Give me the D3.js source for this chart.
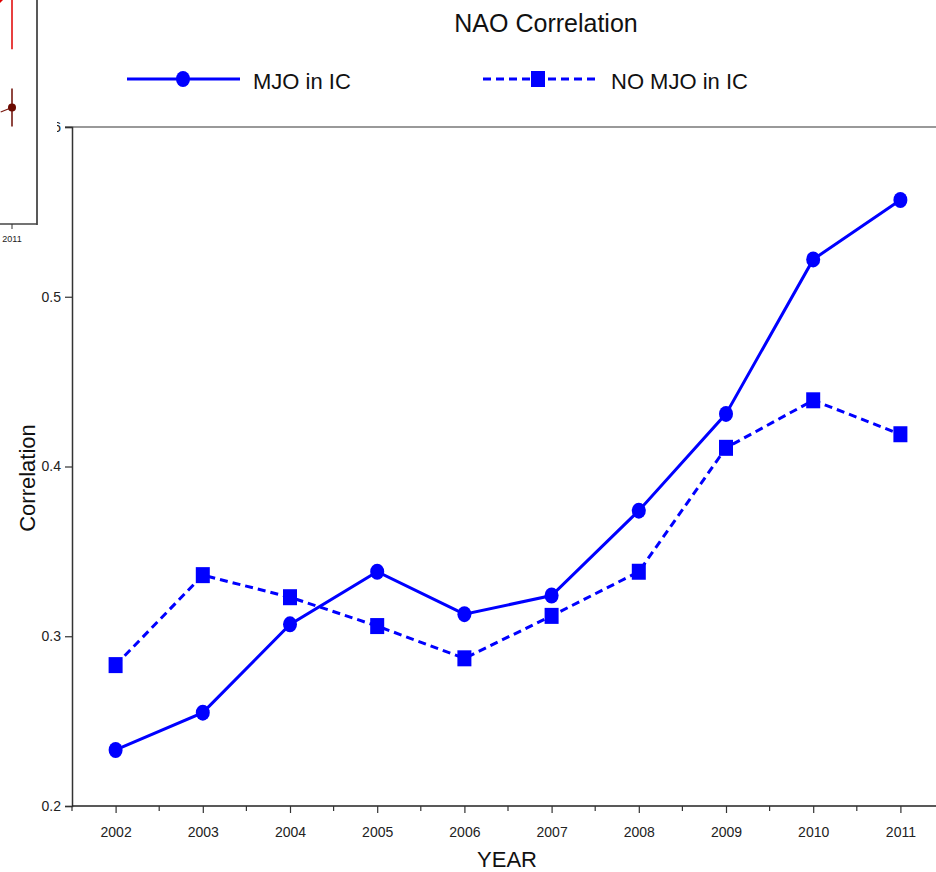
<!DOCTYPE html>
<html>
<head>
<meta charset="utf-8">
<script src="https://cdn.jsdelivr.net/npm/d3@7"></script>
<style>
  html, body { margin: 0; padding: 0; background: #fff; }
  svg { display: block; font-family: "Liberation Sans", Arial, sans-serif; }
</style>
</head>
<body>
<svg id="chart" width="936" height="872"></svg>
<script>
// Years and NAO correlation for the two experiment sets
const years = [2002, 2003, 2004, 2005, 2006, 2007, 2008, 2009, 2010, 2011];
const mjoInIC = [0.233, 0.255, 0.307, 0.338, 0.313, 0.324, 0.374, 0.431, 0.522, 0.557];
const noMjoInIC = [0.283, 0.336, 0.323, 0.306, 0.287, 0.312, 0.338, 0.411, 0.439, 0.419];
const yTicks = [0.2, 0.3, 0.4, 0.5, 0.6];
const seriesNames = ["MJO in IC", "NO MJO in IC"];

// Neighbouring panel fragment (last year of another figure)
const insetYears = [2011];
const insetBrown = [0.52];
const insetBrownErr = [0.085];
const insetBrownPrev = [0.50];
const insetRedLow = [0.78];

const svg = d3.select("#chart");
const W = 936, H = 872;
const m = { left: 72, top: 127, right: -8, bottom: 66 };

const x = d3.scaleLinear().domain([2001.5, 2011.5]).range([m.left, W - m.right]);
const y = d3.scaleLinear().domain([0.2, 0.6]).range([H - m.bottom, m.top]);

const blue = "#0000ff";

// Top frame line
svg.append("line")
  .attr("x1", m.left - 7).attr("x2", W)
  .attr("y1", y(0.6)).attr("y2", y(0.6))
  .attr("stroke", "#777").attr("stroke-width", 1.5);

// Y axis
const yAxis = d3.axisLeft(y).tickValues(yTicks).tickFormat(d3.format(".1f")).tickSize(7).tickPadding(4);
const gy = svg.append("g").attr("transform", `translate(${m.left},0)`).call(yAxis);
gy.select(".domain").attr("stroke", "#333").attr("stroke-width", 1.5);
gy.selectAll(".tick line").attr("stroke", "#333").attr("stroke-width", 1.2);
gy.selectAll(".tick text").attr("font-size", 14).attr("fill", "#222")
  .attr("font-family", "Liberation Sans, Arial, sans-serif");

// X axis: major ticks at years, minor ticks at half years
const minor = d3.range(2001.5, 2012, 1);
svg.append("line")
  .attr("x1", m.left).attr("x2", W)
  .attr("y1", y(0.2)).attr("y2", y(0.2))
  .attr("stroke", "#222").attr("stroke-width", 1.5);
svg.append("g").selectAll("line").data(minor).join("line")
  .attr("x1", d => x(d)).attr("x2", d => x(d))
  .attr("y1", y(0.2)).attr("y2", y(0.2) + 5)
  .attr("stroke", "#333").attr("stroke-width", 1.2);
const xAxis = d3.axisBottom(x).tickValues(years).tickFormat(d3.format("d")).tickSize(7).tickPadding(14);
const gx = svg.append("g").attr("transform", `translate(0,${y(0.2)})`).call(xAxis);
gx.select(".domain").remove();
gx.selectAll(".tick line").attr("stroke", "#333").attr("stroke-width", 1.2);
gx.selectAll(".tick text").attr("font-size", 14).attr("fill", "#222")
  .attr("font-family", "Liberation Sans, Arial, sans-serif");

// Axis titles and chart title
svg.append("text").attr("x", 507).attr("y", 867).attr("text-anchor", "middle")
  .attr("font-size", 22).attr("fill", "#111").text("YEAR");
svg.append("text").attr("transform", `translate(35,478) rotate(-90)`).attr("text-anchor", "middle")
  .attr("font-size", 22).attr("fill", "#111").text("Correlation");
svg.append("text").attr("x", 546).attr("y", 32).attr("text-anchor", "middle")
  .attr("font-size", 25).attr("fill", "#111").text("NAO Correlation");

// Series
const line = d3.line().x((d, i) => x(years[i])).y(d => y(d));

svg.append("path").datum(noMjoInIC).attr("d", line)
  .attr("fill", "none").attr("stroke", blue).attr("stroke-width", 3)
  .attr("stroke-dasharray", "8,5");
svg.append("path").datum(mjoInIC).attr("d", line)
  .attr("fill", "none").attr("stroke", blue).attr("stroke-width", 3);

svg.append("g").selectAll("rect").data(noMjoInIC).join("rect")
  .attr("x", (d, i) => x(years[i]) - 7).attr("y", d => y(d) - 8)
  .attr("width", 14).attr("height", 16).attr("fill", blue);
svg.append("g").selectAll("ellipse").data(mjoInIC).join("ellipse")
  .attr("cx", (d, i) => x(years[i])).attr("cy", d => y(d))
  .attr("rx", 7).attr("ry", 8).attr("fill", blue);

// Legend
const lg = svg.append("g");
lg.append("line").attr("x1", 127).attr("x2", 240).attr("y1", 79).attr("y2", 79)
  .attr("stroke", blue).attr("stroke-width", 3);
lg.append("ellipse").attr("cx", 183).attr("cy", 79).attr("rx", 7).attr("ry", 8).attr("fill", blue);
lg.append("text").attr("x", 253).attr("y", 88.5).attr("font-size", 22).attr("fill", "#111").text(seriesNames[0]);
lg.append("line").attr("x1", 483).attr("x2", 595).attr("y1", 79).attr("y2", 79)
  .attr("stroke", blue).attr("stroke-width", 3).attr("stroke-dasharray", "8,5");
lg.append("rect").attr("x", 531).attr("y", 71).attr("width", 14).attr("height", 16).attr("fill", blue);
lg.append("text").attr("x", 611).attr("y", 88.5).attr("font-size", 22).attr("fill", "#111").text(seriesNames[1]);

// Fragment of the neighbouring panel in the top-left corner
const ix = d3.scaleLinear().domain([2010, 2011]).range([-75, 12]);
const iy = d3.scaleLinear().domain([0, 1]).range([224, 0]);
const inset = svg.append("g");
inset.append("rect").attr("x", 0).attr("y", 0).attr("width", 57).attr("height", 250).attr("fill", "#fff");
inset.append("line").attr("x1", 37).attr("x2", 37).attr("y1", 0).attr("y2", 225)
  .attr("stroke", "#222").attr("stroke-width", 1.5);
inset.append("line").attr("x1", 0).attr("x2", 37).attr("y1", 224).attr("y2", 224)
  .attr("stroke", "#444").attr("stroke-width", 1.5);
inset.selectAll(".itick").data(insetYears).join("line")
  .attr("x1", d => ix(d)).attr("x2", d => ix(d)).attr("y1", 224).attr("y2", 229)
  .attr("stroke", "#333");
inset.selectAll(".ilab").data(insetYears).join("text")
  .attr("x", d => ix(d)).attr("y", 242).attr("text-anchor", "middle")
  .attr("font-size", 9).attr("fill", "#222").text(d => d);
// red series error bar (reaching above the fragment)
inset.selectAll(".ired").data(insetRedLow).join("line")
  .attr("x1", (d, i) => ix(insetYears[i])).attr("x2", (d, i) => ix(insetYears[i]))
  .attr("y1", 0).attr("y2", d => iy(d))
  .attr("stroke", "#e00000").attr("stroke-width", 1.5);
inset.append("path").attr("d", "M0,3 L3,0 L0,0 Z").attr("fill", "#e00000");
// brown series with error bar
inset.selectAll(".ibl").data(insetBrown).join("line")
  .attr("x1", ix(2010.87)).attr("y1", (d, i) => iy(insetBrownPrev[i]))
  .attr("x2", (d, i) => ix(insetYears[i])).attr("y2", d => iy(d))
  .attr("stroke", "#7a1a10").attr("stroke-width", 1.2);
inset.selectAll(".ibe").data(insetBrown).join("line")
  .attr("x1", (d, i) => ix(insetYears[i])).attr("x2", (d, i) => ix(insetYears[i]))
  .attr("y1", (d, i) => iy(d + insetBrownErr[i])).attr("y2", (d, i) => iy(d - insetBrownErr[i]))
  .attr("stroke", "#6b0a00").attr("stroke-width", 1.5);
inset.selectAll(".ibp").data(insetBrown).join("circle")
  .attr("cx", (d, i) => ix(insetYears[i])).attr("cy", d => iy(d)).attr("r", 4)
  .attr("fill", "#6b0a00");
</script>
</body>
</html>
